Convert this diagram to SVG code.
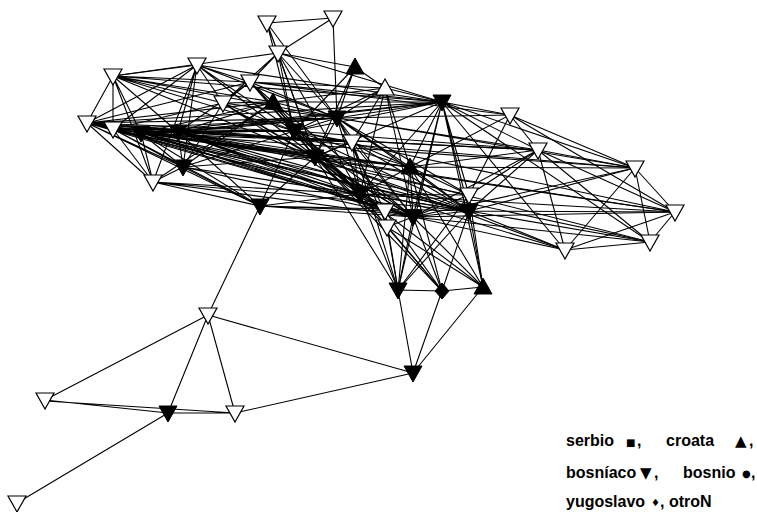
<svg xmlns="http://www.w3.org/2000/svg" xmlns:xlink="http://www.w3.org/1999/xlink" width="757" height="512" viewBox="0 0 757 512">
  <style>
    .edge { fill: none; stroke: #000; stroke-width: 1.1; }
    .open { fill: #fff; stroke: #000; stroke-width: 1.2; stroke-linejoin: miter; }
    .full { fill: #000; stroke: #000; stroke-width: 1; }
    .lg { font-family: "Liberation Sans", Arial, sans-serif; font-weight: bold; font-size: 16px; fill: #000; }
    .sym { font-family: "DejaVu Sans", sans-serif; fill: #000; }
  </style>
  <defs>
    <path id="dn" d="M-9,-7 L9,-7 L0,9 Z"/>
    <path id="up" d="M0,-9 L9,7 L-9,7 Z"/>
    <path id="dia" d="M0,-8 L7,0 L0,8 L-7,0 Z"/>
  </defs>
  <rect width="757" height="512" fill="#fff"/>

  <!-- ties between people -->
  <g id="connectors" class="edge">
    <path d="M267 23L333 18M267 23L278 53M267 23L294 131M267 23L337 118M267 23L315 157"/>
    <path d="M333 18L278 53M333 18L337 118"/>
    <path d="M278 53L113 76M278 53L250 82M278 53L223 103M278 53L337 118M278 53L294 131M278 53L315 157M278 53L442 102M278 53L355 67M278 53L360 194"/>
    <path d="M197 65L113 76M197 65L87 123M197 65L113 129M197 65L250 82M197 65L223 103M197 65L337 118M197 65L294 131M197 65L315 157M197 65L442 102M197 65L178 132M197 65L153 182M197 65L183 167"/>
    <path d="M113 76L87 123M113 76L113 129M113 76L141 133M113 76L178 132M113 76L250 82M113 76L337 118M113 76L294 131M113 76L315 157M113 76L442 102M113 76L153 182M113 76L273 102M113 76L223 103"/>
    <path d="M87 123L113 129M87 123L141 133M87 123L178 132M87 123L183 167M87 123L153 182M87 123L250 82M87 123L337 118M87 123L294 131M87 123L315 157M87 123L360 194M87 123L413 217M87 123L469 211M87 123L410 167M87 123L442 102M87 123L260 206M87 123L273 102M87 123L352 142M87 123L675 212M87 123L635 168"/>
    <path d="M113 129L141 133M113 129L178 132M113 129L183 167M113 129L153 182M113 129L294 131M113 129L315 157M113 129L360 194M113 129L413 217M113 129L337 118M113 129L223 103M113 129L410 167M113 129L538 150M113 129L675 212M113 129L469 211M113 129L352 142M113 129L260 206"/>
    <path d="M141 133L178 132M141 133L183 167M141 133L153 182M141 133L294 131M141 133L315 157M141 133L360 194M141 133L413 217M141 133L469 211M141 133L337 118M141 133L352 142M141 133L442 102M141 133L260 206M141 133L273 102M141 133L650 242M141 133L635 168M141 133L410 167M141 133L385 211"/>
    <path d="M178 132L183 167M178 132L294 131M178 132L315 157M178 132L360 194M178 132L413 217M178 132L469 211M178 132L337 118M178 132L410 167M178 132L385 211M178 132L469 195M178 132L538 150M178 132L250 82M178 132L565 250M178 132L352 142M178 132L260 206M178 132L273 102M178 132L442 102"/>
    <path d="M223 103L250 82M223 103L273 102M223 103L294 131M223 103L337 118M223 103L315 157M223 103L183 167M223 103L360 194M223 103L413 217"/>
    <path d="M250 82L273 102M250 82L294 131M250 82L337 118M250 82L385 88M250 82L442 102M250 82L510 115M250 82L315 157M250 82L360 194"/>
    <path d="M273 102L294 131M273 102L337 118M273 102L315 157M273 102L183 167M273 102L153 182M273 102L360 194M273 102L413 217M273 102L442 102M273 102L385 88"/>
    <path d="M355 67L337 118M355 67L294 131M355 67L385 88M355 67L315 157"/>
    <path d="M385 88L337 118M385 88L442 102M385 88L410 167M385 88L413 217M385 88L294 131M385 88L352 142M385 88L360 194"/>
    <path d="M442 102L337 118M442 102L294 131M442 102L315 157M442 102L410 167M442 102L413 217M442 102L469 211M442 102L398 290M442 102L483 287M442 102L469 195M442 102L510 115M442 102L650 242M442 102L565 250M442 102L635 168M442 102L360 194M442 102L538 150"/>
    <path d="M337 118L294 131M337 118L352 142M337 118L315 157M337 118L410 167M337 118L360 194M337 118L413 217M337 118L469 211M337 118L538 150M337 118L510 115M337 118L385 211M337 118L635 168M337 118L469 195"/>
    <path d="M294 131L315 157M294 131L352 142M294 131L360 194M294 131L413 217M294 131L469 211M294 131L183 167M294 131L260 206M294 131L410 167M294 131L385 211M294 131L538 150M294 131L675 212"/>
    <path d="M352 142L315 157M352 142L360 194M352 142L413 217M352 142L410 167M352 142L469 211M352 142L398 290M352 142L387 227"/>
    <path d="M315 157L360 194M315 157L413 217M315 157L469 211M315 157L183 167M315 157L260 206M315 157L410 167M315 157L387 227M315 157L442 291M315 157L385 211M315 157L650 242M315 157L565 250M315 157L398 290"/>
    <path d="M410 167L413 217M410 167L469 211M410 167L360 194M410 167L469 195M410 167L398 290M410 167L442 291M410 167L483 287M410 167L538 150M410 167L635 168M410 167L510 115"/>
    <path d="M183 167L153 182M183 167L260 206M183 167L360 194M183 167L413 217M183 167L469 211"/>
    <path d="M153 182L260 206M153 182L360 194M153 182L413 217M153 182L469 211"/>
    <path d="M260 206L360 194M260 206L413 217M260 206L469 211M260 206L385 211"/>
    <path d="M360 194L385 211M360 194L387 227M360 194L413 217M360 194L469 211M360 194L398 290M360 194L442 291M360 194L483 287M360 194L469 195M360 194L675 212"/>
    <path d="M385 211L413 217M385 211L387 227M385 211L398 290M385 211L442 291"/>
    <path d="M387 227L413 217M387 227L398 290M387 227L442 291M387 227L483 287"/>
    <path d="M413 217L469 211M413 217L469 195M413 217L398 290M413 217L442 291M413 217L483 287M413 217L538 150M413 217L635 168M413 217L675 212M413 217L650 242M413 217L565 250"/>
    <path d="M469 195L469 211M469 195L538 150M469 195L510 115M469 195L483 287M469 195L398 290"/>
    <path d="M469 211L398 290M469 211L442 291M469 211L483 287M469 211L538 150M469 211L635 168M469 211L675 212M469 211L650 242M469 211L565 250"/>
    <path d="M510 115L538 150M510 115L635 168M510 115L675 212"/>
    <path d="M538 150L635 168M538 150L675 212M538 150L650 242M538 150L565 250"/>
    <path d="M635 168L675 212M635 168L650 242M635 168L565 250M675 212L650 242M675 212L565 250M650 242L565 250"/>
    <path d="M398 290L442 291M442 291L483 287M398 290L413 373M442 291L413 373M483 287L413 373"/>
    <path d="M260 206L208 315M208 315L45 400M208 315L168 413M208 315L235 413M208 315L413 373M45 400L168 413M45 401L235 413M168 413L235 413M235 413L413 373M168 413L17 503"/>
  </g>

  <!-- people -->
  <g id="n1"><use xlink:href="#dn" x="267" y="23" class="open"/></g>
  <g id="n2"><use xlink:href="#dn" x="333" y="18" class="open"/></g>
  <g id="n3"><use xlink:href="#dn" x="278" y="53" class="open"/></g>
  <g id="n4"><use xlink:href="#up" x="355" y="67" class="full"/></g>
  <g id="n5"><use xlink:href="#dn" x="250" y="82" class="open"/></g>
  <g id="n6"><use xlink:href="#dn" x="197" y="65" class="open"/></g>
  <g id="n7"><use xlink:href="#dn" x="113" y="76" class="open"/></g>
  <g id="n8"><use xlink:href="#dn" x="87" y="123" class="open"/></g>
  <g id="n9"><use xlink:href="#dn" x="113" y="129" class="open"/></g>
  <g id="n10"><use xlink:href="#dn" x="141" y="133" class="full"/></g>
  <g id="n11"><use xlink:href="#dn" x="178" y="132" class="full"/></g>
  <g id="n12"><use xlink:href="#dn" x="223" y="103" class="open"/></g>
  <g id="n13"><use xlink:href="#up" x="273" y="102" class="full"/></g>
  <g id="n14"><use xlink:href="#up" x="385" y="88" class="open"/></g>
  <g id="n15"><use xlink:href="#dn" x="442" y="102" class="full"/></g>
  <g id="n16"><use xlink:href="#dn" x="337" y="118" class="full"/></g>
  <g id="n17"><use xlink:href="#dn" x="294" y="131" class="full"/></g>
  <g id="n18"><use xlink:href="#dn" x="352" y="142" class="open"/></g>
  <g id="n19"><use xlink:href="#dn" x="315" y="157" class="full"/></g>
  <g id="n20"><use xlink:href="#up" x="410" y="167" class="full"/></g>
  <g id="n21"><use xlink:href="#dn" x="183" y="167" class="full"/></g>
  <g id="n22"><use xlink:href="#dn" x="153" y="182" class="open"/></g>
  <g id="n23"><use xlink:href="#dn" x="260" y="206" class="full"/></g>
  <g id="n24"><use xlink:href="#dn" x="360" y="194" class="full"/></g>
  <g id="n25"><use xlink:href="#dn" x="385" y="211" class="open"/></g>
  <g id="n26"><use xlink:href="#dn" x="387" y="227" class="open"/></g>
  <g id="n27"><use xlink:href="#dn" x="413" y="217" class="full"/></g>
  <g id="n28"><use xlink:href="#dn" x="469" y="195" class="open"/></g>
  <g id="n29"><use xlink:href="#dn" x="469" y="211" class="full"/></g>
  <g id="n30"><use xlink:href="#dn" x="510" y="115" class="open"/></g>
  <g id="n31"><use xlink:href="#dn" x="538" y="150" class="open"/></g>
  <g id="n32"><use xlink:href="#dn" x="635" y="168" class="open"/></g>
  <g id="n33"><use xlink:href="#dn" x="675" y="212" class="open"/></g>
  <g id="n34"><use xlink:href="#dn" x="650" y="242" class="open"/></g>
  <g id="n35"><use xlink:href="#dn" x="565" y="250" class="open"/></g>
  <g id="n36"><use xlink:href="#dn" x="398" y="290" class="full"/></g>
  <g id="n37"><use xlink:href="#dia" x="442" y="291" class="full"/></g>
  <g id="n38"><use xlink:href="#up" x="483" y="287" class="full"/></g>
  <g id="n39"><use xlink:href="#dn" x="208" y="315" class="open"/></g>
  <g id="n40"><use xlink:href="#dn" x="45" y="400" class="open"/></g>
  <g id="n41"><use xlink:href="#dn" x="168" y="413" class="full"/></g>
  <g id="n42"><use xlink:href="#dn" x="235" y="413" class="open"/></g>
  <g id="n43"><use xlink:href="#dn" x="413" y="373" class="full"/></g>
  <g id="n44"><use xlink:href="#dn" x="17" y="503" class="open"/></g>

  <!-- key -->
  <g id="legend">
    <text class="lg" x="566" y="446">serbio</text>
    <text class="sym" x="626" y="446" font-size="10">■</text>
    <text class="lg" x="637" y="446">,</text>
    <text class="lg" x="666" y="446">croata</text>
    <text class="sym" x="735" y="446" font-size="15">▲</text>
    <text class="lg" x="749" y="446">,</text>
    <text class="lg" x="566" y="478">bosníaco</text>
    <text class="sym" x="640" y="478" font-size="15">▼</text>
    <text class="lg" x="654" y="478">,</text>
    <text class="lg" x="683" y="478">bosnio</text>
    <text class="sym" x="742" y="477" font-size="10">●</text>
    <text class="lg" x="751" y="478">,</text>
    <text class="lg" x="566" y="507">yugoslavo</text>
    <text class="sym" x="651" y="506" font-size="10">♦</text>
    <text class="lg" x="660" y="507">, otroN</text>
  </g>
</svg>
